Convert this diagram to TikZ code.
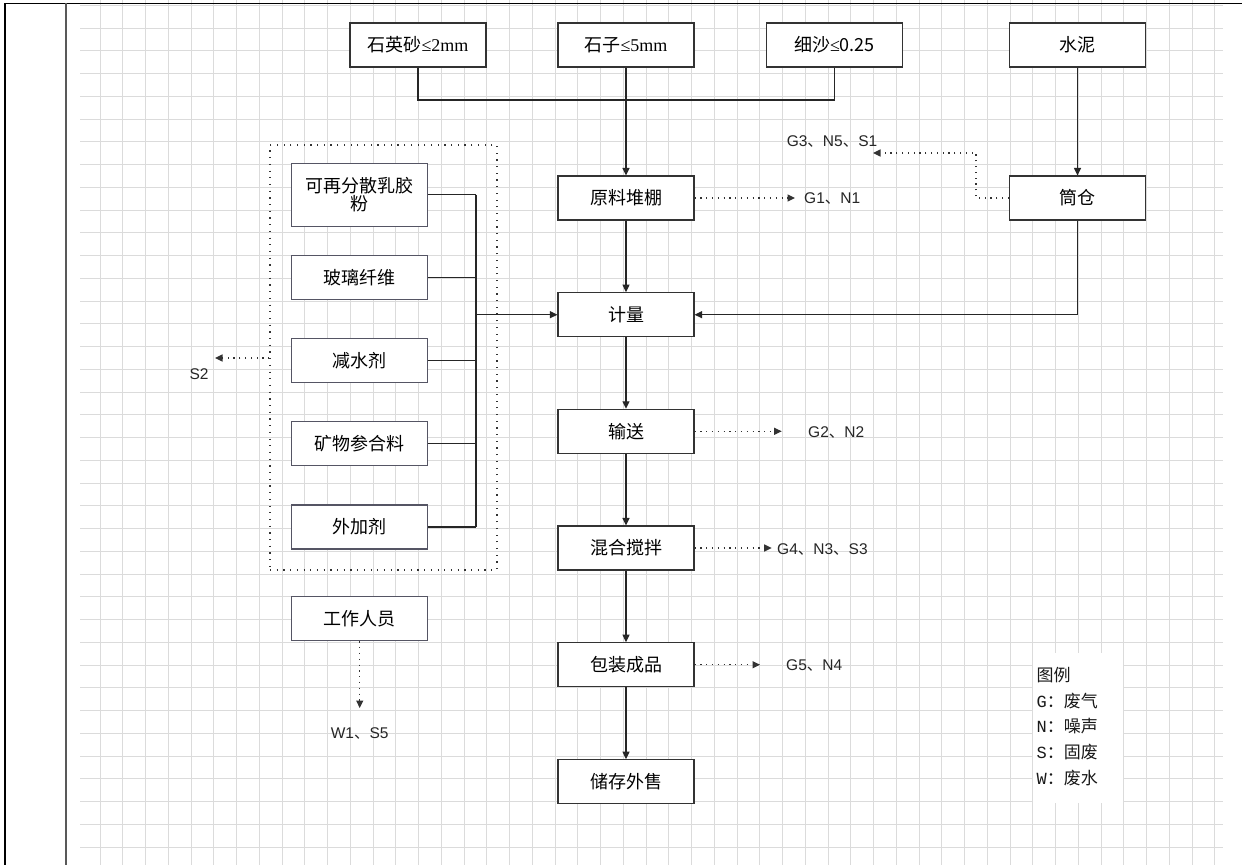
\documentclass[tikz,border=0pt]{standalone}
\usepackage{fontspec}
\setmainfont{Noto Sans CJK SC}
\newfontfamily\lat{Liberation Sans}
\newfontfamily\ser{Liberation Serif}
\newfontfamily\mono{Liberation Mono}
\usetikzlibrary{arrows.meta}
\definecolor{lboxcol}{RGB}{85,85,100}
\begin{document}
\begin{tikzpicture}[x=1pt,y=-1pt,
  gridline/.style={draw=black!14, line width=0.9pt},
  box/.style={draw=black!80, line width=1.1pt, fill=white, minimum width=136pt, minimum height=44pt, inner sep=0pt, align=center, font=\fontsize{18}{19}\selectfont},
  lbox/.style={box, draw=lboxcol},
  conn/.style={draw=black!85, line width=1.1pt},
  flow/.style={conn, -{Triangle[length=7.5pt,width=7pt]}},
  dotflow/.style={draw=black!80, line width=1.2pt, dash pattern=on 1.2pt off 4.6pt, -{Triangle[length=7.5pt,width=7pt]}},
  grpbox/.style={draw=black!80, line width=1.2pt, dash pattern=on 1.2pt off 5.5pt, minimum width=227pt, minimum height=425pt, inner sep=0pt},
  lab/.style={font=\fontsize{15.5}{18}\selectfont, text=black!85, inner sep=0pt},
  leg/.style={font=\fontsize{17}{19}\selectfont, text=black!90, inner sep=0pt, anchor=west}
]
\useasboundingbox (0,0) rectangle (1242,865);
\fill[white] (0,0) rectangle (1242,865);
% grid
\foreach \i in {0,...,49} \draw[gridline] ({100+22.75*\i},0) -- ({100+22.75*\i},865);
\foreach \j in {0,...,37} \draw[gridline] (80,{5.2+22.75*\j}) -- (1223,{5.2+22.75*\j});
% frame
\draw[black, line width=1.6pt] (5,3.3) -- (1242,3.3);
\draw[black, line width=1.6pt] (5,3.3) -- (5,865);
\draw[black!65, line width=2pt] (66,3.3) -- (66,865);

% top sources
\node[box] (quartz) at (418,45) {石英砂{\ser ≤2mm}};
\node[box] (stone) at (626,45) {石子{\ser ≤5mm}};
\node[box] (sand) at (834.5,45) {细沙{\ser ≤}0.25};
\node[box] (cement) at (1077.5,45) {水泥};
% main column
\node[box] (store) at (626,198) {原料堆棚};
\node[box] (silo) at (1077.5,198) {筒仓};
\node[box] (meter) at (626,314.7) {计量};
\node[box] (convey) at (626,431.3) {输送};
\node[box] (mix) at (626,548) {混合搅拌};
\node[box] (pack) at (626,664.7) {包装成品};
\node[box] (sell) at (626,781.7) {储存外售};
% left group
\node[grpbox] (grp) at (383.5,357.5) {};
\node[lbox, minimum height=62.7pt, font=\fontsize{18}{18.5}\selectfont] (latex) at (359.7,194.7) {可再分散乳胶\\粉};
\node[lbox] (glass) at (359.7,277.8) {玻璃纤维};
\node[lbox] (reducer) at (359.7,360.8) {减水剂};
\node[lbox] (mineral) at (359.7,443.7) {矿物参合料};
\node[lbox] (additive) at (359.7,527) {外加剂};
\node[lbox] (worker) at (359.7,618.8) {工作人员};

% coordinates
\coordinate (mrg) at (626,100);
\coordinate (bus) at (476,0);
\coordinate (sbend) at (976,153);
\coordinate (g3tip) at (873,153);
\coordinate (g1tip) at (795,198);
\coordinate (g2tip) at (781.7,431.3);
\coordinate (g4tip) at (771.7,548);
\coordinate (g5tip) at (760,664.7);
\coordinate (s2tip) at (215,358);
\coordinate (wtip) at (359.7,708);

% connectors top
\draw[conn] (quartz.south) |- (mrg) -| (sand.south);
\draw[flow] (stone.south) -- (store.north);
\draw[flow] (cement.south) -- (silo.north);
\draw[flow] (store.south) -- (meter.north);
\draw[flow] (silo.south) |- (meter.east);
\draw[dotflow] (silo.west) -| (sbend) -- (g3tip);
\draw[dotflow] (store.east) -- (g1tip);
% left bus
\draw[conn] (latex.east) -- (latex.east -| bus);
\draw[conn] (glass.east) -- (glass.east -| bus);
\draw[conn] (reducer.east) -- (reducer.east -| bus);
\draw[conn] (mineral.east) -- (mineral.east -| bus);
\draw[conn] (additive.east) -- (additive.east -| bus);
\draw[conn] (latex.east -| bus) -- (additive.east -| bus);
\draw[flow] (meter.west -| bus) -- (meter.west);
\draw[dotflow] (grp.west |- s2tip) -- (s2tip);
\draw[dotflow] (worker.south) -- (wtip);
% main flow
\draw[flow] (meter.south) -- (convey.north);
\draw[flow] (convey.south) -- (mix.north);
\draw[flow] (mix.south) -- (pack.north);
\draw[flow] (pack.south) -- (sell.north);
\draw[dotflow] (convey.east) -- (g2tip);
\draw[dotflow] (mix.east) -- (g4tip);
\draw[dotflow] (pack.east) -- (g5tip);

% labels
\node[lab] (lg3) at (832,142) {{\lat G3}、{\lat N5}、{\lat S1}};
\node[lab, anchor=west] (lg1) at (804,198.5) {{\lat G1}、{\lat N1}};
\node[lab] (ls2) at (199,374) {\lat S2};
\node[lab] (lw1) at (359.7,734) {{\lat W1}、{\lat S5}};
\node[lab, anchor=west] (lg2) at (808,432.5) {{\lat G2}、{\lat N2}};
\node[lab, anchor=west] (lg4) at (777,550) {{\lat G4}、{\lat N3}、{\lat S3}};
\node[lab, anchor=west] (lg5) at (786,665.5) {{\lat G5}、{\lat N4}};

% legend
\node[fill=white, minimum width=90pt, minimum height=150pt, inner sep=0pt, anchor=north west] (legbg) at (1033,653) {};
\node[leg] (leg0) at (1036.5,675) {图例};
\node[leg] (leg1) at (1036.5,701) {{\mono G}：废气};
\node[leg] (leg2) at (1036.5,726) {{\mono N}：噪声};
\node[leg] (leg3) at (1036.5,752) {{\mono S}：固废};
\node[leg] (leg4) at (1036.5,778) {{\mono W}：废水};
\end{tikzpicture}
\end{document}
